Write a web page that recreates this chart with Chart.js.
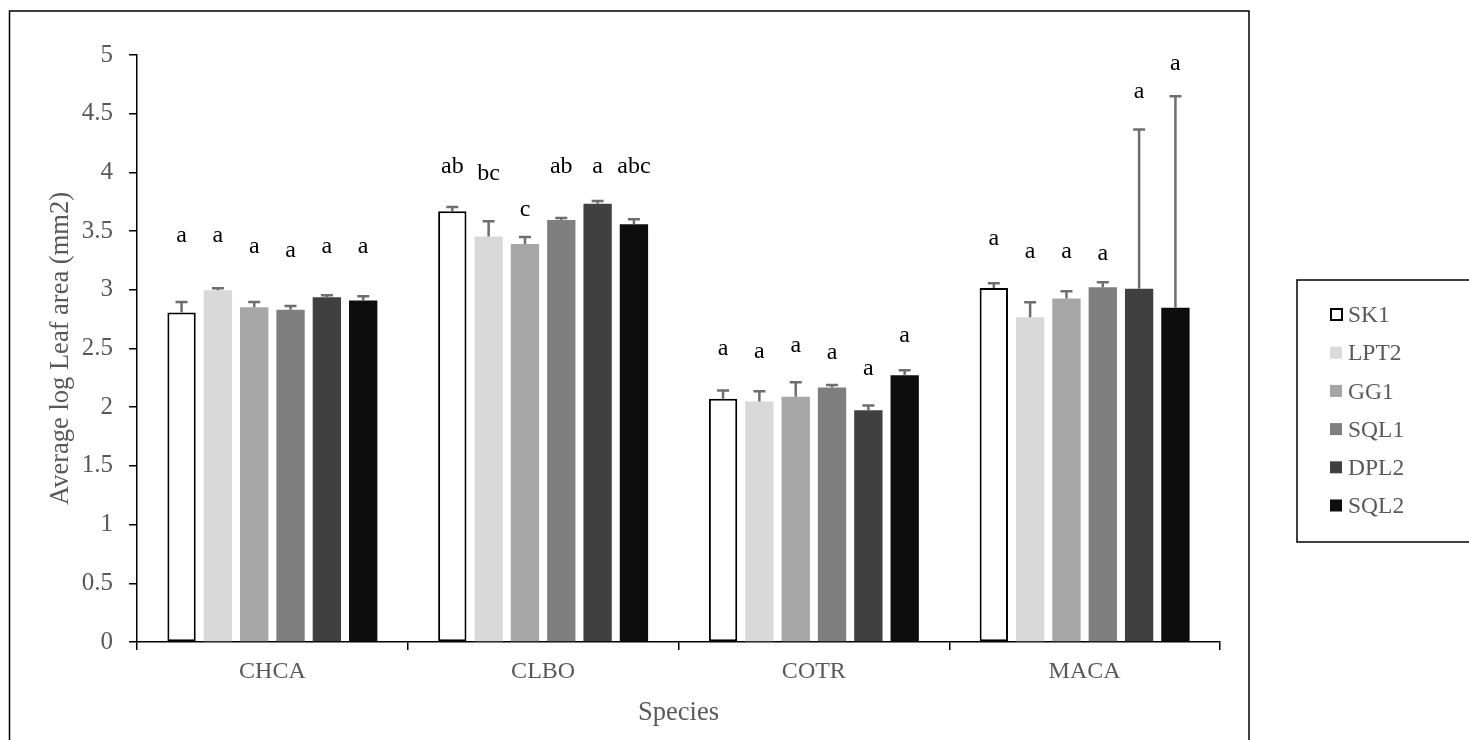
<!DOCTYPE html>
<html>
<head>
<meta charset="utf-8">
<script src="https://cdn.jsdelivr.net/npm/chart.js@4.4.1/dist/chart.umd.min.js"></script>
<style>
  html, body { margin: 0; padding: 0; background: #fff; }
  #wrap { width: 1469px; height: 740px; }
</style>
</head>
<body>
<div id="wrap"><canvas id="c" width="1469" height="740"></canvas></div>
<script>
// ---- data ----
const categories = ['CHCA', 'CLBO', 'COTR', 'MACA'];
const seriesNames = ['SK1', 'LPT2', 'GG1', 'SQL1', 'DPL2', 'SQL2'];

const sk1  = [2.806, 3.669, 2.073, 3.015];
const lpt2 = [2.996, 3.453, 2.048, 2.766];
const gg1  = [2.851, 3.390, 2.090, 2.925];
const sql1 = [2.831, 3.595, 2.167, 3.021];
const dpl2 = [2.936, 3.734, 1.974, 3.010];
const sql2 = [2.908, 3.558, 2.272, 2.848];

const sk1Err  = [0.090, 0.036, 0.070, 0.040];
const lpt2Err = [0.017, 0.130, 0.087, 0.128];
const gg1Err  = [0.045, 0.060, 0.122, 0.062];
const sql1Err = [0.030, 0.017, 0.022, 0.043];
const dpl2Err = [0.017, 0.022, 0.040, 1.355];
const sql2Err = [0.037, 0.042, 0.043, 1.800];

// significance letters and the value at which each letter sits
const sk1Letters  = ['a', 'ab',  'a', 'a'];
const lpt2Letters = ['a', 'bc',  'a', 'a'];
const gg1Letters  = ['a', 'c',   'a', 'a'];
const sql1Letters = ['a', 'ab',  'a', 'a'];
const dpl2Letters = ['a', 'a',   'a', 'a'];
const sql2Letters = ['a', 'abc', 'a', 'a'];

const sk1LetterAt  = [3.465, 4.046, 2.499, 3.436];
const lpt2LetterAt = [3.465, 3.990, 2.470, 3.322];
const gg1LetterAt  = [3.365, 3.683, 2.527, 3.322];
const sql1LetterAt = [3.336, 4.046, 2.465, 3.308];
const dpl2LetterAt = [3.365, 4.046, 2.329, 4.685];
const sql2LetterAt = [3.365, 4.046, 2.612, 4.927];

const yMin = 0, yMax = 5, yStep = 0.5;
const xTitle = 'Species';
const yTitle = 'Average log Leaf area (mm2)';

// ---- styling ----
const FONT = "'Liberation Serif', 'Times New Roman', serif";
const GRAY_TEXT = '#595959';
const fills = ['#ffffff', '#d9d9d9', '#a6a6a6', '#7f7f7f', '#404040', '#0d0d0d'];
const values = [sk1, lpt2, gg1, sql1, dpl2, sql2];
const errs = [sk1Err, lpt2Err, gg1Err, sql1Err, dpl2Err, sql2Err];
const letters = [sk1Letters, lpt2Letters, gg1Letters, sql1Letters, dpl2Letters, sql2Letters];
const letterAt = [sk1LetterAt, lpt2LetterAt, gg1LetterAt, sql1LetterAt, dpl2LetterAt, sql2LetterAt];

const datasets = seriesNames.map((name, i) => ({
  label: name,
  data: values[i],
  errors: errs[i],
  letters: letters[i],
  letterAt: letterAt[i],
  backgroundColor: fills[i],
  borderColor: i === 0 ? '#000000' : fills[i],
  borderWidth: i === 0 ? 2 : 0,
  borderSkipped: false,
  categoryPercentage: 0.805,
  barPercentage: 0.78
}));

const decorPlugin = {
  id: 'decor',
  beforeDraw(chart) {
    const ctx = chart.ctx;
    ctx.save();
    ctx.fillStyle = '#fff';
    ctx.fillRect(0, 0, chart.width, chart.height);
    // outer chart frame
    ctx.strokeStyle = '#000';
    ctx.lineWidth = 1.5;
    ctx.beginPath();
    ctx.moveTo(9.5, 760);
    ctx.lineTo(9.5, 11);
    ctx.lineTo(1249, 11);
    ctx.lineTo(1249, 760);
    ctx.stroke();
    ctx.restore();
  },
  afterDatasetsDraw(chart) {
    const ctx = chart.ctx;
    const y = chart.scales.y;
    ctx.save();
    // error bars
    chart.data.datasets.forEach((ds, di) => {
      const meta = chart.getDatasetMeta(di);
      meta.data.forEach((bar, j) => {
        const top = y.getPixelForValue(ds.data[j] + ds.errors[j]);
        ctx.strokeStyle = '#6e6e6e';
        ctx.lineWidth = 2.5;
        ctx.beginPath();
        ctx.moveTo(bar.x, bar.y);
        ctx.lineTo(bar.x, top);
        ctx.moveTo(bar.x - 6, top);
        ctx.lineTo(bar.x + 6, top);
        ctx.stroke();
      });
    });
    // letters
    ctx.fillStyle = '#000';
    ctx.font = '24px ' + FONT;
    ctx.textAlign = 'center';
    ctx.textBaseline = 'middle';
    chart.data.datasets.forEach((ds, di) => {
      const meta = chart.getDatasetMeta(di);
      meta.data.forEach((bar, j) => {
        ctx.fillText(ds.letters[j], bar.x, y.getPixelForValue(ds.letterAt[j]));
      });
    });
    // legend
    const lx = 1297, ly = 280, lh = 262;
    ctx.strokeStyle = '#000';
    ctx.lineWidth = 1.5;
    ctx.beginPath();
    ctx.moveTo(1480, ly);
    ctx.lineTo(lx, ly);
    ctx.lineTo(lx, ly + lh);
    ctx.lineTo(1480, ly + lh);
    ctx.stroke();
    ctx.font = '23.5px ' + FONT;
    ctx.textAlign = 'left';
    ctx.textBaseline = 'middle';
    chart.data.datasets.forEach((ds, di) => {
      const cy = 315 + di * 38.2;
      if (di === 0) {
        ctx.fillStyle = '#fff';
        ctx.fillRect(1331, cy - 6, 11, 11);
        ctx.strokeStyle = '#000';
        ctx.lineWidth = 2;
        ctx.strokeRect(1331, cy - 6, 11, 11);
      } else {
        ctx.fillStyle = ds.backgroundColor;
        ctx.fillRect(1330, cy - 6.5, 12, 12);
      }
      ctx.fillStyle = GRAY_TEXT;
      ctx.fillText(ds.label, 1348, cy + 1);
    });
    ctx.restore();
  }
};

new Chart(document.getElementById('c'), {
  type: 'bar',
  data: { labels: categories, datasets },
  options: {
    responsive: false,
    animation: false,
    devicePixelRatio: 1,
    layout: { padding: { left: 10, right: 249, top: 55, bottom: 0 } },
    plugins: { legend: { display: false }, tooltip: { enabled: false } },
    scales: {
      x: {
        offset: true,
        grid: { display: true, drawOnChartArea: false, drawTicks: true, tickLength: 8, offset: true, color: '#000', lineWidth: 1.5 },
        border: { display: true, color: '#000', width: 1.5 },
        ticks: { color: GRAY_TEXT, font: { family: FONT, size: 24 }, padding: 7 },
        title: { display: true, text: xTitle, color: GRAY_TEXT, font: { family: FONT, size: 26.5 }, padding: { top: 0, bottom: 11 } },
        afterFit(scale) { scale.height = 98; }
      },
      y: {
        min: yMin, max: yMax,
        grid: { display: true, drawOnChartArea: false, drawTicks: true, tickLength: 8, color: '#000', lineWidth: 1.5 },
        border: { display: true, color: '#000', width: 1.5 },
        ticks: { stepSize: yStep, color: GRAY_TEXT, font: { family: FONT, size: 25 }, padding: 16,
                 callback: (v) => String(Math.round(v * 10) / 10) },
        title: { display: true, text: yTitle, color: GRAY_TEXT, font: { family: FONT, size: 26.5 }, padding: { top: 35, bottom: 0 } },
        afterFit(scale) { scale.width = 127; }
      }
    }
  },
  plugins: [decorPlugin]
});
</script>
</body>
</html>
